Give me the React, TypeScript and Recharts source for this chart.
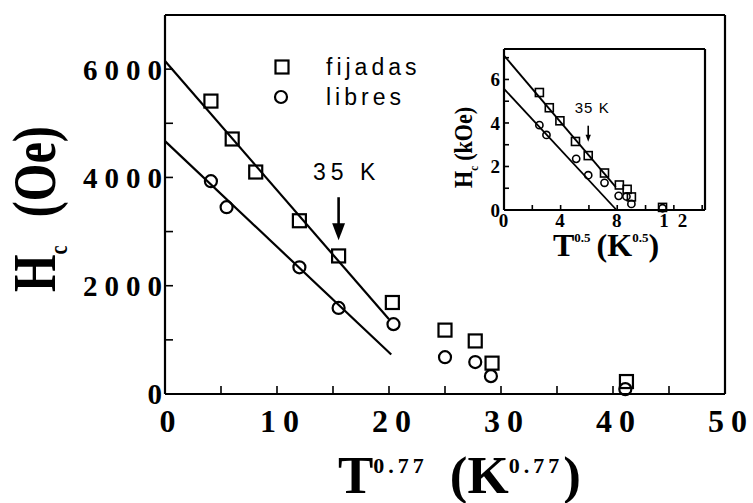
import { Legend, Scatter, ScatterChart, XAxis, YAxis } from "recharts";

// main plot: Hc (Oe) against T^0.77
const fijadasT = [4.1, 6.0, 8.1, 12.0, 15.5, 20.3, 25.0, 27.7, 29.2, 41.2];
const fijadasHc = [5410, 4710, 4100, 3200, 2550, 1690, 1180, 980, 570, 230];
const libresT = [4.1, 5.5, 12.0, 15.5, 20.4, 25.0, 27.7, 29.1, 41.1];
const libresHc = [3930, 3450, 2340, 1590, 1290, 680, 590, 330, 90];
const fitFijadasT = [0, 20.0];
const fitFijadasHc = [6150, 1380];
const fitLibresT = [0, 20.2];
const fitLibresHc = [4670, 730];
const arrowT = [15.5];
const arrowHc = [2840];

const xTicks = [0, 5, 10, 15, 20, 25, 30, 35, 40, 45, 50];
const xLabels = [0, 10, 20, 30, 40, 50];
const yTicks = [0, 1000, 2000, 3000, 4000, 5000, 6000, 7000];
const yLabels = [0, 2000, 4000, 6000];

// inset: Hc (kOe) against T^0.5
const insetFijadasT = [2.5, 3.2, 3.95, 5.05, 5.95, 7.1, 8.15, 8.7, 9.0, 11.2];
const insetFijadasHc = [5.4, 4.7, 4.1, 3.15, 2.5, 1.7, 1.15, 0.95, 0.6, 0.12];
const insetLibresT = [2.5, 3.0, 5.1, 5.95, 7.1, 8.1, 8.65, 9.0, 11.2];
const insetLibresHc = [3.9, 3.45, 2.35, 1.6, 1.25, 0.65, 0.62, 0.28, 0.08];
const insetFitFijadasT = [0, 7.9];
const insetFitFijadasHc = [7.1, 1.05];
const insetFitLibresT = [0, 7.95];
const insetFitLibresHc = [5.57, 0];
const insetArrowT = [5.95];
const insetArrowHc = [3.14];

const insetXTicks = [0, 2, 4, 6, 8, 10, 12, 14];
const insetXLabels = [0, 4, 8, 12];
const insetYTicks = [0, 1, 2, 3, 4, 5, 6, 7];
const insetYLabels = [0, 2, 4, 6];

const zip = (xs: number[], ys: number[]) => xs.map((x, i) => ({ x, y: ys[i] }));

const SERIF = "'Liberation Serif', 'Times New Roman', serif";
const SANS = "'Liberation Sans', Arial, sans-serif";
const axisLine = { stroke: "#000", strokeWidth: 2.2 };
const tickLine = { stroke: "#000", strokeWidth: 1.6 };

const Square = (size: number, sw: number) => (p: any) => (
  <rect
    x={p.cx - size / 2}
    y={p.cy - size / 2}
    width={size}
    height={size}
    fill="none"
    stroke="#000"
    strokeWidth={sw}
  />
);

const Circle = (r: number, sw: number) => (p: any) => (
  <circle cx={p.cx} cy={p.cy} r={r} fill="none" stroke="#000" strokeWidth={sw} />
);

const Nothing = () => <g />;

const Arrow =
  (len: number, head: number, sw: number, fontSize: number, ls: number, textGap: number, dx: number) =>
  (p: any) => (
    <g>
      <line x1={p.cx} y1={p.cy - len} x2={p.cx} y2={p.cy - head + 1} stroke="#000" strokeWidth={sw} />
      <polygon
        points={`${p.cx - head * 0.38},${p.cy - head} ${p.cx + head * 0.38},${p.cy - head} ${p.cx},${p.cy}`}
        fill="#000"
      />
      <text
        x={p.cx + dx}
        y={p.cy - textGap}
        textAnchor="middle"
        fontFamily={SANS}
        fontSize={fontSize}
        letterSpacing={ls}
        fill="#000"
      >
        35 K
      </text>
    </g>
  );

const tickText = (labels: number[], fontSize: number, ls: number, anchor: "middle" | "end", dx: number, dy: string) =>
  (p: any) => {
    const v = p.payload?.value;
    if (!labels.includes(v)) return <g />;
    return (
      <text
        x={p.x + dx}
        y={p.y}
        dy={dy}
        textAnchor={anchor}
        fontFamily={SERIF}
        fontWeight="bold"
        fontSize={fontSize}
        letterSpacing={ls}
        fill="#000"
      >
        {v}
      </text>
    );
  };

const MainXTitle = (p: any) => {
  const vb = p.viewBox ?? { x: 165, y: 394 };
  return (
    <text x={vb.x + 173} y={vb.y + 99} fontFamily={SERIF} fontWeight="bold" fontSize={53} fill="#000">
      T
      <tspan dy={-20} fontSize={22} letterSpacing={4}>0.77</tspan>
      <tspan dy={20} dx={22}>(K</tspan>
      <tspan dy={-20} fontSize={22} letterSpacing={4}>0.77</tspan>
      <tspan dy={20}>)</tspan>
    </text>
  );
};

const MainYTitle = (p: any) => {
  const vb = p.viewBox ?? { x: 164, y: 15 };
  return (
    <text
      transform={`translate(${vb.x - 109}, ${vb.y + 277}) rotate(-90) scale(0.78, 1)`}
      fontFamily={SERIF}
      fontWeight="bold"
      fontSize={62}
      fill="#000"
    >
      H
      <tspan dy={12} fontSize={26}>c</tspan>
      <tspan dy={-12} dx={36}>(Oe)</tspan>
    </text>
  );
};

const InsetXTitle = (p: any) => {
  const vb = p.viewBox ?? { x: 64, y: 170 };
  return (
    <text x={vb.x + 49} y={vb.y + 46} fontFamily={SERIF} fontWeight="bold" fontSize={32} fill="#000">
      T
      <tspan dy={-14} fontSize={13}>0.5</tspan>
      <tspan dy={14} dx={6}>(K</tspan>
      <tspan dy={-14} fontSize={13}>0.5</tspan>
      <tspan dy={14}>)</tspan>
    </text>
  );
};

const InsetYTitle = (p: any) => {
  const vb = p.viewBox ?? { x: 63, y: 9 };
  return (
    <text
      transform={`translate(${vb.x - 31}, ${vb.y + 139}) rotate(-90) scale(0.85, 1)`}
      fontFamily={SERIF}
      fontWeight="bold"
      fontSize={26}
      fill="#000"
    >
      H
      <tspan dy={6} fontSize={13}>c</tspan>
      <tspan dy={-6} dx={6}>(kOe)</tspan>
    </text>
  );
};

const LegendBox = () => (
  <svg width={170} height={60}>
    <rect x={3.5} y={5.5} width={13} height={13} fill="none" stroke="#000" strokeWidth={2.2} />
    <text x={54} y={20} fontFamily={SANS} fontSize={23} letterSpacing={4} fill="#000">
      fijadas
    </text>
    <circle cx={9} cy={42} r={6} fill="none" stroke="#000" strokeWidth={2.2} />
    <text x={54} y={50} fontFamily={SANS} fontSize={23} letterSpacing={4} fill="#000">
      libres
    </text>
  </svg>
);

export default function App() {
  return (
    <div style={{ position: "absolute", left: 0, top: 0, width: 753, height: 503, background: "#fff" }}>
      <ScatterChart width={753} height={503} margin={{ top: 14, right: 27, bottom: 108, left: 164 }}>
        <XAxis
          type="number"
          dataKey="x"
          domain={[0, 50]}
          ticks={xTicks}
          interval={0}
          height={1}
          tickSize={-8}
          tickMargin={46}
          axisLine={axisLine}
          tickLine={tickLine}
          tick={tickText(xLabels, 32, 7, "middle", 6, "0")}
          label={MainXTitle}
        />
        <XAxis
          xAxisId="top"
          orientation="top"
          type="number"
          dataKey="x"
          domain={[0, 50]}
          ticks={xTicks}
          interval={0}
          height={1}
          tickSize={-8}
          axisLine={axisLine}
          tickLine={tickLine}
          tick={false}
        />
        <YAxis
          type="number"
          dataKey="y"
          domain={[0, 7000]}
          ticks={yTicks}
          interval={0}
          width={1}
          tickSize={-8}
          tickMargin={4}
          axisLine={axisLine}
          tickLine={tickLine}
          tick={tickText(yLabels, 29, 7, "end", 0, "0.36em")}
          label={MainYTitle}
        />
        <YAxis
          yAxisId="right"
          orientation="right"
          type="number"
          dataKey="y"
          domain={[0, 7000]}
          ticks={yTicks}
          interval={0}
          width={1}
          tickSize={-8}
          axisLine={axisLine}
          tickLine={tickLine}
          tick={false}
        />
        <Legend
          layout="horizontal"
          verticalAlign="middle"
          align="center"
          content={LegendBox}
          wrapperStyle={{ left: 272, top: 55, width: 170, height: 60 }}
        />
        <Scatter
          name="fit fijadas"
          data={zip(fitFijadasT, fitFijadasHc)}
          line={{ stroke: "#000", strokeWidth: 2.2 }}
          shape={Nothing}
          legendType="none"
          isAnimationActive={false}
        />
        <Scatter
          name="fit libres"
          data={zip(fitLibresT, fitLibresHc)}
          line={{ stroke: "#000", strokeWidth: 2.2 }}
          shape={Nothing}
          legendType="none"
          isAnimationActive={false}
        />
        <Scatter name="fijadas" data={zip(fijadasT, fijadasHc)} shape={Square(13, 2.2)} isAnimationActive={false} />
        <Scatter name="libres" data={zip(libresT, libresHc)} shape={Circle(6, 2.2)} isAnimationActive={false} />
        <Scatter
          name="35 K"
          data={zip(arrowT, arrowHc)}
          shape={Arrow(43, 17, 2.6, 23, 5, 60, 8)}
          legendType="none"
          isAnimationActive={false}
        />
      </ScatterChart>

      <div style={{ position: "absolute", left: 440, top: 40 }}>
        <ScatterChart width={280} height={240} margin={{ top: 8, right: 14, bottom: 69, left: 63 }}>
          <XAxis
            type="number"
            dataKey="x"
            domain={[0, 14.2]}
            ticks={insetXTicks}
            interval={0}
            height={1}
            tickSize={-5}
            tickMargin={22}
            axisLine={axisLine}
            tickLine={tickLine}
            tick={tickText(insetXLabels, 19, 9, "middle", 4, "0")}
            label={InsetXTitle}
          />
          <XAxis
            xAxisId="top"
            orientation="top"
            type="number"
            dataKey="x"
            domain={[0, 14.2]}
            ticks={insetXTicks}
            interval={0}
            height={1}
            tickSize={-5}
            axisLine={axisLine}
            tickLine={tickLine}
            tick={false}
          />
          <YAxis
            type="number"
            dataKey="y"
            domain={[0, 7.4]}
            ticks={insetYTicks}
            interval={0}
            width={1}
            tickSize={-5}
            tickMargin={9}
            axisLine={axisLine}
            tickLine={tickLine}
            tick={tickText(insetYLabels, 19, 0, "end", 0, "0.36em")}
            label={InsetYTitle}
          />
          <YAxis
            yAxisId="right"
            orientation="right"
            type="number"
            dataKey="y"
            domain={[0, 7.4]}
            ticks={insetYTicks}
            interval={0}
            width={1}
            tickSize={-5}
            axisLine={axisLine}
            tickLine={tickLine}
            tick={false}
          />
          <Scatter
            data={zip(insetFitFijadasT, insetFitFijadasHc)}
            line={{ stroke: "#000", strokeWidth: 1.8 }}
            shape={Nothing}
            legendType="none"
            isAnimationActive={false}
          />
          <Scatter
            data={zip(insetFitLibresT, insetFitLibresHc)}
            line={{ stroke: "#000", strokeWidth: 1.8 }}
            shape={Nothing}
            legendType="none"
            isAnimationActive={false}
          />
          <Scatter data={zip(insetFijadasT, insetFijadasHc)} shape={Square(8, 1.6)} isAnimationActive={false} />
          <Scatter data={zip(insetLibresT, insetLibresHc)} shape={Circle(3.6, 1.6)} isAnimationActive={false} />
          <Scatter
            data={zip(insetArrowT, insetArrowHc)}
            shape={Arrow(16, 7, 1.6, 15, 1, 29, 4)}
            legendType="none"
            isAnimationActive={false}
          />
        </ScatterChart>
      </div>
    </div>
  );
}
